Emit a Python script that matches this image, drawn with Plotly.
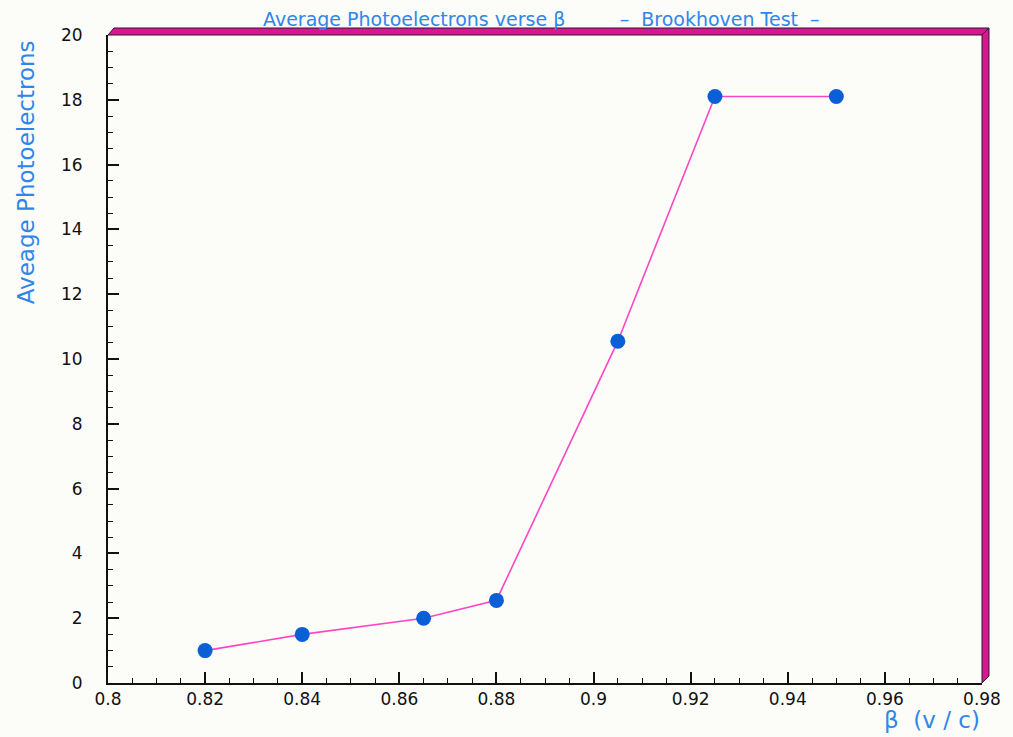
import plotly.graph_objects as go

beta = [0.82, 0.84, 0.865, 0.88, 0.905, 0.925, 0.95]
photoelectrons = [1.0, 1.5, 2.0, 2.55, 10.55, 18.1, 18.1]

x_ticks = [0.8, 0.82, 0.84, 0.86, 0.88, 0.9, 0.92, 0.94, 0.96, 0.98]
x_tick_labels = ["0.8", "0.82", "0.84", "0.86", "0.88", "0.9", "0.92", "0.94", "0.96", "0.98"]
y_ticks = [0, 2, 4, 6, 8, 10, 12, 14, 16, 18, 20]

BLUE_TEXT = "#2f86ea"
MAGENTA = "#d6178f"
W, H = 1013, 737
L, R, T, B = 108, 985, 35, 683

fig = go.Figure()
fig.add_trace(go.Scatter(
    x=beta, y=photoelectrons, mode="lines+markers",
    line=dict(color="#ff45c4", width=1.6),
    marker=dict(color="#0b5fd6", size=15, symbol="circle",
                line=dict(color="#0b5fd6", width=0)),
    showlegend=False,
))

def px(xp):
    return (xp - L) / (R - L)

def py(yp):
    return (B - yp) / (B - T)

top_path = (f"M {px(108)},{py(35)} L {px(114)},{py(28)} L {px(992)},{py(28)} "
            f"L {px(985)},{py(35)} Z")
right_path = (f"M {px(985)},{py(35)} L {px(992)},{py(28)} L {px(992)},{py(676)} "
              f"L {px(985)},{py(683)} Z")
shapes = [
    dict(type="path", xref="paper", yref="paper", path=top_path,
         fillcolor=MAGENTA, line=dict(color="#3a1030", width=1), layer="above"),
    dict(type="path", xref="paper", yref="paper", path=right_path,
         fillcolor=MAGENTA, line=dict(color="#3a1030", width=1), layer="above"),
]

fig.update_layout(
    width=W, height=H,
    margin=dict(l=L, r=W - R, t=T, b=H - B),
    paper_bgcolor="#fcfcf9", plot_bgcolor="#fcfcf9",
    font=dict(family="DejaVu Sans", color="#111111", size=15),
    shapes=shapes,
    xaxis=dict(
        range=[0.8, 0.98], tickvals=x_ticks, ticktext=x_tick_labels,
        ticks="inside", ticklen=11, tickwidth=1.5, tickcolor="#111",
        minor=dict(dtick=0.005, tick0=0.8, ticks="inside", ticklen=5,
                   tickwidth=1.2, tickcolor="#111", showgrid=False),
        showline=True, linecolor="#111", linewidth=2,
        showgrid=False, zeroline=False,
        tickfont=dict(size=17, family="DejaVu Sans", color="#111"),
    ),
    yaxis=dict(
        range=[0, 20], tickvals=y_ticks,
        ticks="inside", ticklen=11, tickwidth=1.5, tickcolor="#111",
        minor=dict(dtick=0.5, tick0=0, ticks="inside", ticklen=5,
                   tickwidth=1.2, tickcolor="#111", showgrid=False),
        showline=True, linecolor="#111", linewidth=2,
        showgrid=False, zeroline=False,
        ticklabelstandoff=20,
        tickfont=dict(size=17, family="DejaVu Sans", color="#111"),
    ),
    annotations=[
        dict(text="Average Photoelectrons verse β         \u2013  Brookhoven Test  \u2013",
             xref="paper", yref="paper", x=px(543), y=py(19),
             xanchor="center", yanchor="middle", showarrow=False,
             font=dict(size=19, color=BLUE_TEXT, family="DejaVu Sans")),
        dict(text="Aveage Photoelectrons", textangle=-90,
             xref="paper", yref="paper", x=px(26), y=py(172),
             xanchor="center", yanchor="middle", showarrow=False,
             font=dict(size=23, color=BLUE_TEXT, family="DejaVu Sans")),
        dict(text="β  (v / c)",
             xref="paper", yref="paper", x=px(985), y=py(720),
             xanchor="right", yanchor="middle", showarrow=False,
             font=dict(size=23, color=BLUE_TEXT, family="DejaVu Sans")),
    ],
)

fig.write_html("out.html")
